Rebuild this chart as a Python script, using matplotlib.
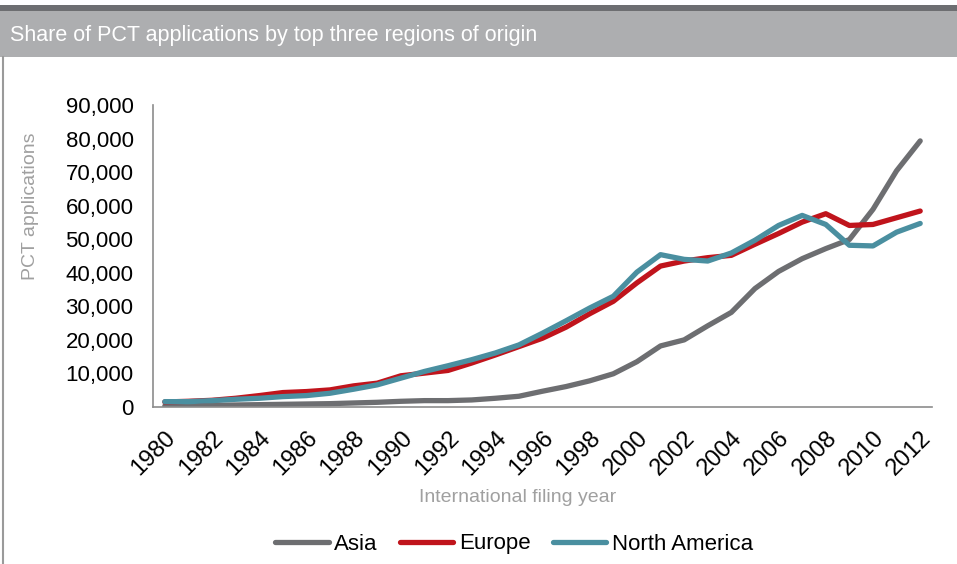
import numpy as np
import matplotlib
matplotlib.use('Agg')
from matplotlib import pyplot as plt
from matplotlib.patches import Rectangle
from matplotlib.lines import Line2D
from matplotlib.ticker import FuncFormatter

plt.rcParams['font.family'] = ['Liberation Sans Narrow', 'Liberation Sans', 'DejaVu Sans']

# data
years = list(range(1980, 2013))
asia = [300, 400, 500, 600, 700, 800, 900, 1000, 1200, 1400,
        1700, 1900, 1900, 2100, 2600, 3200, 4700, 6100, 7800, 9900,
        13500, 18200, 20000, 24200, 28200, 35300, 40400, 44200, 47200, 49900,
        58900, 70400, 79300]
europe = [1500, 1700, 2000, 2600, 3400, 4300, 4600, 5100, 6300, 7100,
          9300, 10100, 10900, 13100, 15500, 18000, 20500, 23800, 27800, 31500,
          37000, 42000, 43500, 44500, 45200, 48500, 51700, 55100, 57600, 54100,
          54400, 56400, 58400]
north_america = [1600, 1600, 1900, 2300, 2600, 3100, 3400, 4100, 5300, 6600,
                 8600, 10600, 12300, 14100, 16100, 18500, 22000, 25700, 29500, 33000,
                 40200, 45400, 44000, 43500, 45900, 49700, 54100, 57100, 54400, 48200,
                 48000, 52100, 54700]
series_names = ['Asia', 'Europe', 'North America']
colors = ['#6d6e71', '#c0141c', '#4a8fa0']
title = 'Share of PCT applications by top three regions of origin'

fig = plt.figure(figsize=(9.57, 5.64), dpi=100)

# title banner
fig.patches.append(Rectangle((0, 1 - 57 / 564), 1, 46 / 564, transform=fig.transFigure,
                             facecolor='#adaeb0', edgecolor='none', zorder=0))
fig.patches.append(Rectangle((0, 1 - 11 / 564), 1, 6 / 564, transform=fig.transFigure,
                             facecolor='#6d6e71', edgecolor='none', zorder=0))
fig.lines.append(Line2D([2.5 / 957, 2.5 / 957], [0, 1 - 57 / 564], transform=fig.transFigure,
                        color='#9a9a9a', lw=1.5))
fig.text(10 / 957, 1 - 35 / 564, title, color='white', fontsize=15.5, va='center', ha='left')

ax = fig.add_axes([153 / 957, 1 - 407 / 564, (932 - 153) / 957, (407 - 105) / 564])
for vals, name, c in zip([asia, europe, north_america], series_names, colors):
    ax.plot(years, vals, color=c, lw=3.8, label=name, solid_capstyle='round')

ax.set_xlim(1979.5, 2012.5)
ax.set_ylim(0, 90000)
ax.set_yticks(np.arange(0, 90001, 10000))
ax.yaxis.set_major_formatter(FuncFormatter(lambda v, p: f'{int(v):,}'))
ax.set_xticks(years[::2])
ax.set_xticklabels([str(y) for y in years[::2]], rotation=45, ha='right',
                   rotation_mode='anchor')
ax.tick_params(axis='both', length=0, colors='black')
ax.tick_params(axis='x', pad=14, labelsize=17)
ax.tick_params(axis='y', pad=14, labelsize=16)
for s in ['top', 'right']:
    ax.spines[s].set_visible(False)
for s in ['left', 'bottom']:
    ax.spines[s].set_color('#8c8c8c')
    ax.spines[s].set_linewidth(1.2)

ax.set_ylabel('PCT applications', color='#a0a0a0', fontsize=14)
ax.yaxis.set_label_coords((30 - 153) / 779, (407 - 206) / 302)
ax.set_xlabel('International filing year', color='#a0a0a0', fontsize=14)
ax.xaxis.set_label_coords((518 - 153) / 779, (407 - 497) / 302)
ax.xaxis.label.set_va('center')
ax.yaxis.label.set_va('center')

ax.legend(loc='center', bbox_to_anchor=((514 - 153) / 779, (407 - 544) / 302), ncol=3,
          frameon=False, fontsize=16, handlelength=2.4, handletextpad=0.25,
          columnspacing=1.0)

plt.savefig('out.png', dpi=100)
